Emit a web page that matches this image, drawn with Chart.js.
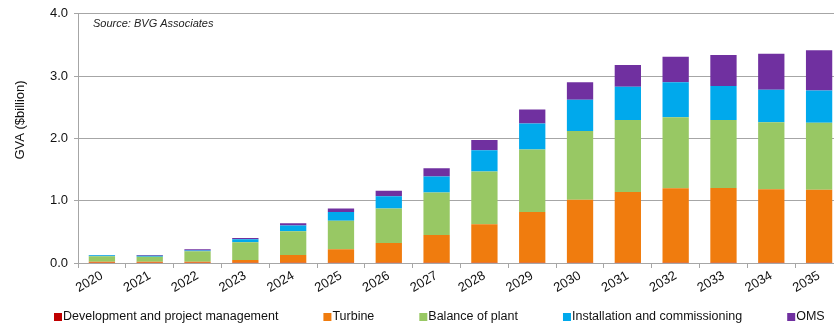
<!DOCTYPE html>
<html>
<head>
<meta charset="utf-8">
<script src="https://cdn.jsdelivr.net/npm/chart.js@4/dist/chart.umd.min.js"></script>
<style>
  html,body{margin:0;padding:0;background:#fff;overflow:hidden;}
  #wrap{width:850px;height:325px;position:relative;}
</style>
</head>
<body>
<div id="wrap"><canvas id="gvaChart" width="850" height="325"></canvas></div>
<script>
// GVA by cost element, 2020-2035 ($billion)
const years = ['2020','2021','2022','2023','2024','2025','2026','2027','2028','2029','2030','2031','2032','2033','2034','2035'];
const devMgmt   = [0.005,0.005,0.005,0.005,0.005,0.005,0.005,0.005,0.005,0.005,0.005,0.005,0.005,0.005,0.005,0.005];
const turbine   = [0.015,0.015,0.015,0.045,0.125,0.215,0.315,0.445,0.615,0.815,1.01,1.135,1.195,1.2,1.18,1.17];
const balance   = [0.09,0.08,0.17,0.285,0.38,0.46,0.556,0.68,0.85,1.0,1.105,1.155,1.14,1.09,1.075,1.075];
const install   = [0.015,0.015,0.01,0.045,0.09,0.14,0.194,0.26,0.34,0.42,0.5,0.535,0.56,0.545,0.52,0.52];
const oms       = [0.005,0.015,0.02,0.02,0.04,0.056,0.09,0.13,0.166,0.225,0.28,0.35,0.41,0.5,0.58,0.645];
const yTicks    = [0,1,2,3,4];

const FONT = 'Liberation Sans, Arial, sans-serif';
const grey = '#a6a6a6';

// source note, rotated y-axis title and the legend row along the bottom
const annotations = {
  id:'annotations',
  afterDraw(chart){
    const c = chart.ctx, a = chart.chartArea;
    c.save();
    c.font = 'italic 11px ' + FONT;
    c.fillStyle = '#222';
    c.textBaseline = 'middle';
    c.fillText('Source: BVG Associates', a.left + 15, a.top + 10);

    // legend: small square, text right after it, wide gap to the next item
    c.font = '12.5px ' + FONT;
    let x = 54;
    const y = 317;
    chart.data.datasets.forEach(d=>{
      c.fillStyle = d.backgroundColor;
      c.fillRect(x, y - 4, 8, 8);
      c.fillStyle = '#111';
      c.fillText(d.label, x + 9, y);
      x += 9 + c.measureText(d.label).width + 45;
    });

    c.translate(20, 120);
    c.rotate(-Math.PI/2);
    c.font = '13px ' + FONT;
    c.textAlign = 'center';
    c.fillText('GVA ($billion)', 0, 0);
    c.restore();
  }
};

function ds(label, data, color){
  return {label, data, backgroundColor:color, borderWidth:0,
    categoryPercentage:0.55, barPercentage:1};
}

new Chart(document.getElementById('gvaChart'), {
  type:'bar',
  data:{
    labels: years,
    datasets:[
      ds('Development and project management', devMgmt, '#c00000'),
      ds('Turbine', turbine, '#f07c0e'),
      ds('Balance of plant', balance, '#98c864'),
      ds('Installation and commissioning', install, '#00a9ec'),
      ds('OMS', oms, '#7030a0')
    ]
  },
  options:{
    responsive:false,
    animation:false,
    devicePixelRatio:1,
    layout:{padding:{top:12,right:7,left:0,bottom:24}},
    plugins:{
      tooltip:{enabled:false},
      legend:{display:false}
    },
    scales:{
      x:{
        stacked:true,
        grid:{display:true, drawOnChartArea:false, drawTicks:true, tickLength:5, color:grey, offset:true},
        border:{color:grey},
        ticks:{color:'#111', font:{family:FONT,size:13}, minRotation:30, maxRotation:30, padding:0, autoSkip:false},
        afterFit(s){ s.height = 38; }
      },
      y:{
        stacked:true,
        min:0, max:4,
        afterBuildTicks(s){ s.ticks = yTicks.map(v=>({value:v})); },
        grid:{color:grey, tickLength:4, drawTicks:true},
        border:{color:grey},
        ticks:{color:'#111', font:{family:FONT,size:13}, padding:6, callback:v=>v.toFixed(1)},
        afterFit(s){ s.width = 78; }
      }
    }
  },
  plugins:[annotations]
});
</script>
</body>
</html>
